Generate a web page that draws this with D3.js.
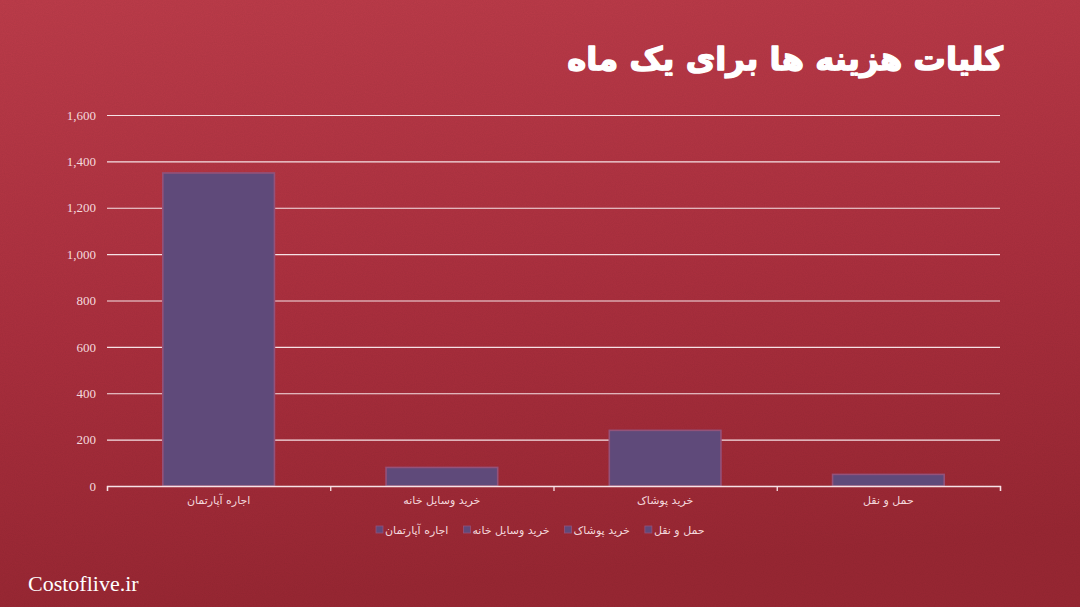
<!DOCTYPE html>
<html>
<head>
<meta charset="utf-8">
<script src="https://cdn.jsdelivr.net/npm/d3@7"></script>
<style>
  html, body { margin: 0; padding: 0; }
  body { width: 1080px; height: 607px; overflow: hidden; }
</style>
</head>
<body>
<div id="chart"></div>
<script>
// data
const categories = ["اجاره آپارتمان", "خرید وسایل خانه", "خرید پوشاک", "حمل و نقل"];
const values = [1350, 80, 240, 50];
const yTicks = [0, 200, 400, 600, 800, 1000, 1200, 1400, 1600];
const title = "کلیات هزینه ها برای یک ماه";
const footer = "Costoflive.ir";

const outerWidth = 1080, outerHeight = 607;
const margin = {top: 115, left: 107, right: 80, bottom: 121};
const width = outerWidth - margin.left - margin.right;
const height = outerHeight - margin.top - margin.bottom;

const svg = d3.select("#chart")
    .append("svg")
    .attr("width", outerWidth)
    .attr("height", outerHeight);

const defs = svg.append("defs");
const grad = defs.append("linearGradient")
    .attr("id", "bg")
    .attr("x1", 0).attr("y1", 0).attr("x2", 0.15).attr("y2", 1);
grad.append("stop").attr("offset", "0%").attr("stop-color", "#bd3c4a");
grad.append("stop").attr("offset", "55%").attr("stop-color", "#ab2f3e");
grad.append("stop").attr("offset", "100%").attr("stop-color", "#992733");

// a little paper grain
const filt = defs.append("filter").attr("id", "grain");
filt.append("feTurbulence")
    .attr("type", "fractalNoise")
    .attr("baseFrequency", 0.9)
    .attr("numOctaves", 2)
    .attr("seed", 3);
filt.append("feColorMatrix")
    .attr("values", "0 0 0 0 0  0 0 0 0 0  0 0 0 0 0  0 0 0 0.06 0");

svg.append("rect")
    .attr("width", outerWidth).attr("height", outerHeight)
    .attr("fill", "url(#bg)");
svg.append("rect")
    .attr("width", outerWidth).attr("height", outerHeight)
    .attr("filter", "url(#grain)");

// title, sized to span roughly the same width as the original
const titleText = svg.append("text")
    .attr("x", 1003)
    .attr("y", 70)
    .attr("text-anchor", "end")
    .attr("fill", "#ffffff")
    .attr("stroke", "#ffffff")
    .attr("stroke-width", 1.4)
    .attr("stroke-linejoin", "round")
    .style("font-family", "'DejaVu Sans', sans-serif")
    .style("font-weight", "bold")
    .style("font-size", "34px")
    .text(title);
const tw = titleText.node().getComputedTextLength();
titleText.style("font-size", Math.min(44, 34 * 436 / tw) + "px");

const g = svg.append("g")
    .attr("transform", `translate(${margin.left}, ${margin.top})`);

let xScale = d3.scaleBand()
    .domain(categories)
    .range([0, width])
    .paddingInner(0.5)
    .paddingOuter(0.25);

let yScale = d3.scaleLinear()
    .domain([0, 1600])
    .range([height, 0]);

// gridlines + y labels
const yAxis = d3.axisLeft(yScale)
    .tickValues(yTicks)
    .tickSize(-width)
    .tickPadding(11)
    .tickFormat(d3.format(","));

g.append("g")
    .attr("class", "axis-y")
    .call(yAxis)
    .call(s => s.select(".domain").remove())
    .call(s => s.selectAll("line")
        .attr("stroke", "#f6e2e6")
        .attr("stroke-width", 1.1))
    .call(s => s.selectAll("text")
        .attr("fill", "#f4d9dd")
        .style("font-family", "'Liberation Serif', serif")
        .style("font-size", "13px"));

// bars
g.selectAll(".bar")
    .data(values)
    .join("rect")
    .attr("class", "bar")
    .attr("x", (d, i) => xScale(categories[i]))
    .attr("y", d => yScale(d))
    .attr("width", xScale.bandwidth())
    .attr("height", d => height - yScale(d))
    .attr("fill", "#5f4a7a")
    .attr("stroke", "#94527a")
    .attr("stroke-width", 1.6);

// base line with category separators
const sepScale = d3.scaleLinear().domain([0, categories.length]).range([0, width]);
g.append("g")
    .attr("class", "axis-x-sep")
    .attr("transform", `translate(0, ${height})`)
    .call(d3.axisBottom(sepScale).ticks(categories.length).tickSize(5).tickSizeOuter(5).tickFormat(""))
    .call(s => s.selectAll("line, path").attr("stroke", "#f6e2e6").attr("stroke-width", 1.3));

// category labels
g.append("g")
    .attr("class", "axis-x")
    .attr("transform", `translate(0, ${height})`)
    .call(d3.axisBottom(xScale).tickSize(0).tickPadding(10))
    .call(s => s.select(".domain").remove())
    .call(s => s.selectAll("text")
        .attr("fill", "#f4d9dd")
        .style("font-family", "'DejaVu Sans', sans-serif")
        .style("font-size", "11px"));

// legend
const legend = svg.append("g").attr("class", "legend");
const legendY = 530;
let lx = 376;
categories.forEach((c, i) => {
    const item = legend.append("g").attr("transform", `translate(${lx}, ${legendY})`);
    item.append("rect")
        .attr("x", 0).attr("y", -4)
        .attr("width", 7).attr("height", 7)
        .attr("fill", "#5f4a7a")
        .attr("stroke", "#94527a")
        .attr("stroke-width", 0.8);
    const t = item.append("text")
        .attr("x", 9)
        .attr("y", 4)
        .attr("fill", "#f4d9dd")
        .style("font-family", "'DejaVu Sans', sans-serif")
        .style("font-size", "11px")
        .text(c);
    const w = t.node().getComputedTextLength();
    lx += 9 + w + 15;
});

// footer
svg.append("text")
    .attr("x", 28)
    .attr("y", 591)
    .attr("fill", "#ffffff")
    .style("font-family", "'Liberation Serif', serif")
    .style("font-size", "22px")
    .text(footer);
</script>
</body>
</html>
